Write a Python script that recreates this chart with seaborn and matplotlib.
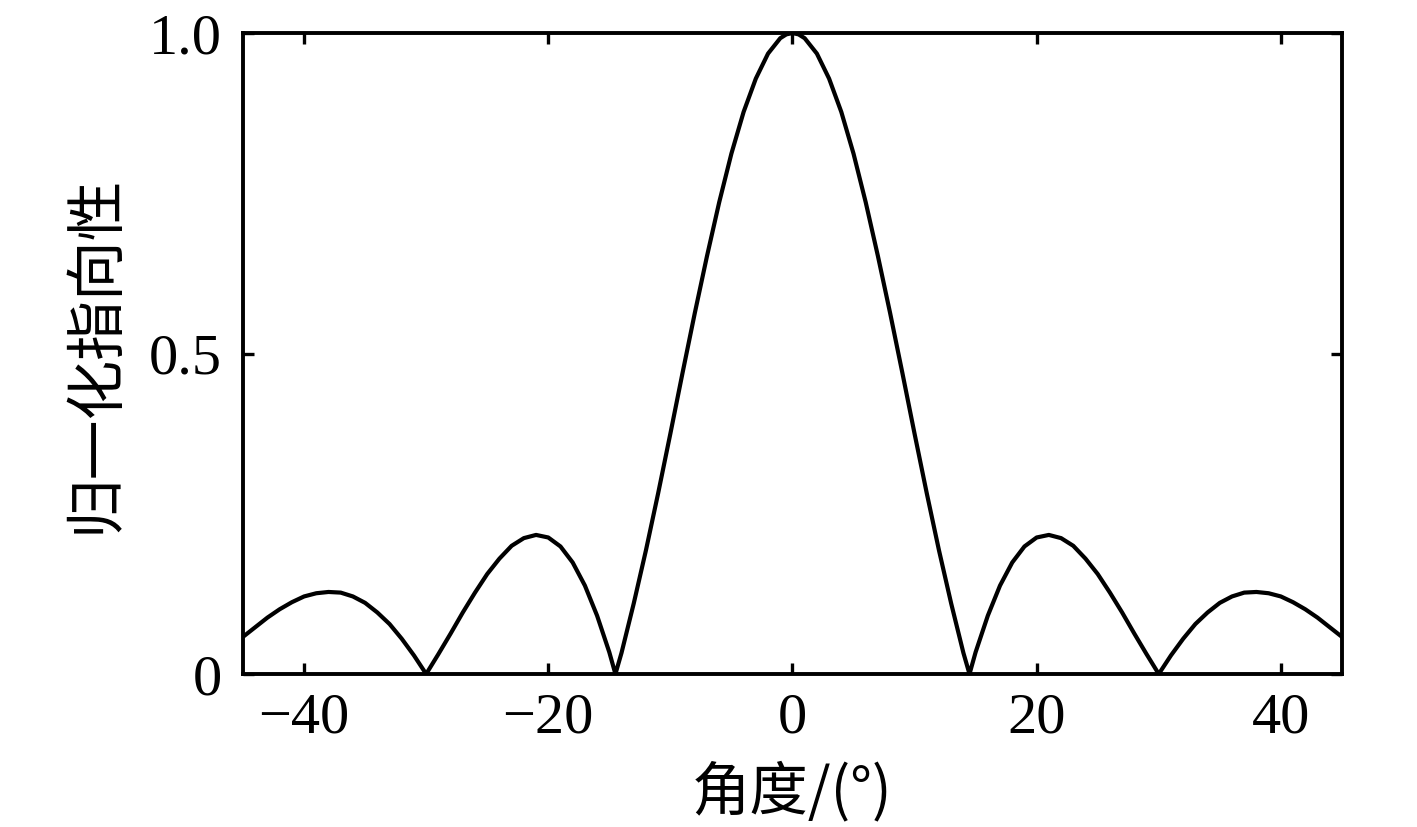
import numpy as np
import pandas as pd
import matplotlib
matplotlib.use("Agg")
import matplotlib.pyplot as plt
import seaborn as sns

# angle (deg) and normalised directivity
angle = [-45, -44, -43, -42, -41, -40, -39, -38, -37, -36, -35, -34, -33, -32, -31,
         -30, -29, -28, -27, -26, -25, -24, -23, -22, -21, -20, -19, -18, -17, -16,
         -15, -14.5, -14, -13, -12, -11, -10, -9, -8, -7, -6, -5, -4, -3, -2, -1, -0.5,
         0, 0.5, 1, 2, 3, 4, 5, 6, 7, 8, 9, 10, 11, 12, 13, 14, 14.5, 15,
         16, 17, 18, 19, 20, 21, 22, 23, 24, 25, 26, 27, 28, 29, 30,
         31, 32, 33, 34, 35, 36, 37, 38, 39, 40, 41, 42, 43, 44, 45]
directivity = [0.058, 0.073, 0.088, 0.101, 0.112, 0.121, 0.126, 0.128, 0.127, 0.121,
               0.111, 0.096, 0.078, 0.055, 0.029,
               0.000, 0.031, 0.063, 0.096, 0.127, 0.156, 0.180, 0.200, 0.212, 0.217,
               0.213, 0.199, 0.174, 0.138, 0.091,
               0.034, 0.000, 0.033, 0.110, 0.193, 0.282, 0.375, 0.470, 0.563, 0.652,
               0.736, 0.812, 0.877, 0.929, 0.968, 0.992, 0.998,
               1.000, 0.998, 0.992, 0.968, 0.929, 0.877, 0.812, 0.736, 0.652, 0.563, 0.470,
               0.375, 0.282, 0.193, 0.110, 0.033, 0.000, 0.034,
               0.091, 0.138, 0.174, 0.199, 0.213, 0.217, 0.212, 0.200, 0.180, 0.156,
               0.127, 0.096, 0.063, 0.031, 0.000,
               0.029, 0.055, 0.078, 0.096, 0.111, 0.121, 0.127, 0.128, 0.126, 0.121,
               0.112, 0.101, 0.088, 0.073, 0.058]

x_ticks = [-40, -20, 0, 20, 40]
y_ticks = [0, 0.5, 1.0]
y_tick_labels = ["0", "0.5", "1.0"]

sns.set_theme(style="ticks")
plt.rcParams["font.family"] = ["Liberation Serif", "DejaVu Serif"]
plt.rcParams["axes.unicode_minus"] = True

df = pd.DataFrame({"angle": angle, "directivity": directivity})

fig = plt.figure(figsize=(14.17, 8.27), dpi=100)
ax = fig.add_axes([0.1715, 0.185, 0.7755, 0.775])

sns.lineplot(data=df, x="angle", y="directivity", color="black", linewidth=3.0,
             solid_joinstyle="round", ax=ax)

ax.set_xlim(-45, 45)
ax.set_ylim(0, 1.0)
ax.set_xticks(x_ticks)
ax.set_xticklabels([f"{t}".replace("-", "\u2212") for t in x_ticks])
ax.set_yticks(y_ticks)
ax.set_yticklabels(y_tick_labels)

for side in ["top", "bottom", "left", "right"]:
    ax.spines[side].set_visible(True)
    ax.spines[side].set_linewidth(2.8)
    ax.spines[side].set_color("black")

ax.tick_params(axis="both", direction="in", length=8, width=2.4, color="black",
               top=True, right=True, labelsize=42, labelcolor="black")
ax.tick_params(axis="x", pad=13)
ax.tick_params(axis="y", pad=15)

cjk = ["Noto Sans CJK SC", "DejaVu Sans"]
ax.set_xlabel("角度/(°)", fontsize=42, family=cjk, va="center", color="black")
ax.xaxis.set_label_coords(0.5, -0.186)
ax.set_ylabel("归一化指向性", fontsize=43, family=cjk, va="center", color="black")
ax.yaxis.set_label_coords(-0.134, 0.5)

fig.savefig("out.png", dpi=100)
